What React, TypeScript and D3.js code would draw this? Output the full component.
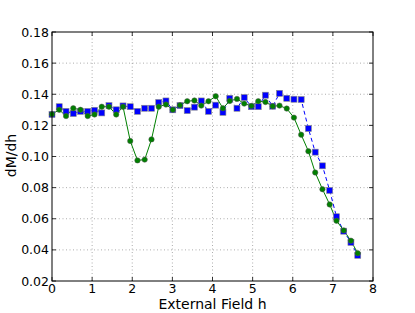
import React from "react";
import * as d3 from "d3";

// field values (h) of the sampled points
const fieldH = [
  0, 0.18, 0.35, 0.53, 0.71, 0.89, 1.06, 1.24, 1.42, 1.6, 1.77, 1.95, 2.13, 2.31, 2.48,
  2.66, 2.84, 3.01, 3.19, 3.37, 3.55, 3.72, 3.9, 4.08, 4.26, 4.43, 4.61, 4.79, 4.97,
  5.14, 5.32, 5.5, 5.67, 5.85, 6.03, 6.21, 6.39, 6.56, 6.74, 6.92, 7.09, 7.27, 7.45, 7.62,
];

// blue squares, dashed
const squaresY = [
  0.127, 0.132, 0.129, 0.1276, 0.129, 0.129, 0.1297, 0.128, 0.1327, 0.13, 0.1325,
  0.132, 0.129, 0.131, 0.131, 0.1347, 0.1357, 0.13, 0.1327, 0.1295, 0.1317, 0.1357,
  0.129, 0.133, 0.1284, 0.1374, 0.131, 0.1379, 0.132, 0.132, 0.1394, 0.1323, 0.1406,
  0.1374, 0.1368, 0.1366, 0.118, 0.1028, 0.094, 0.0782, 0.0613, 0.052, 0.0448, 0.0365,
];

// green circles, solid
const circlesY = [
  0.1272, 0.13, 0.126, 0.131, 0.13, 0.126, 0.127, 0.132, 0.132, 0.127, 0.132, 0.11,
  0.0975, 0.098, 0.111, 0.132, 0.1334, 0.13, 0.133, 0.1355, 0.136, 0.1327, 0.1355,
  0.1387, 0.131, 0.1357, 0.137, 0.134, 0.1325, 0.1355, 0.135, 0.1323, 0.1327, 0.1308,
  0.125, 0.114, 0.1034, 0.0897, 0.079, 0.0692, 0.0587, 0.0525, 0.0459, 0.0378,
];

const xTicks = [0, 1, 2, 3, 4, 5, 6, 7, 8];
const yTicks = [0.02, 0.04, 0.06, 0.08, 0.1, 0.12, 0.14, 0.16, 0.18];

const W = 415;
const H = 313;
const m = { left: 52, right: 42, top: 32, bottom: 32 };
const font = "DejaVu Sans, sans-serif";

export default function App() {
  const x = d3.scaleLinear().domain([0, 8]).range([m.left, W - m.right]);
  const y = d3.scaleLinear().domain([0.02, 0.18]).range([H - m.bottom, m.top]);
  const line = d3
    .line<number>()
    .x((_, i) => x(fieldH[i]))
    .y((d) => y(d));

  const x0 = x(0), x1 = x(8), y0 = y(0.02), y1 = y(0.18);

  return (
    <svg
      width={W}
      height={H}
      style={{ position: "absolute", left: 0, top: 0, background: "#fff" }}
      fontFamily={font}
    >
      <defs>
        <clipPath id="plot">
          <rect x={x0} y={y1} width={x1 - x0} height={y0 - y1} />
        </clipPath>
      </defs>
      {/* grid */}
      <g stroke="#777" strokeWidth={0.6} strokeDasharray="1,2.5">
        {xTicks.slice(1, -1).map((t) => (
          <line key={"gx" + t} x1={x(t)} x2={x(t)} y1={y0} y2={y1} />
        ))}
        {yTicks.slice(1, -1).map((t) => (
          <line key={"gy" + t} x1={x0} x2={x1} y1={y(t)} y2={y(t)} />
        ))}
      </g>

      <g clipPath="url(#plot)">
        <path
          d={line(squaresY) || ""}
          fill="none"
          stroke="#0000ff"
          strokeWidth={1}
          strokeDasharray="4,3"
        />
        <path d={line(circlesY) || ""} fill="none" stroke="#008000" strokeWidth={1} />
      </g>
      {squaresY.map((v, i) => (
        <rect
          key={"s" + i}
          x={x(fieldH[i]) - 3}
          y={y(v) - 3}
          width={6}
          height={6}
          fill="#0000ff"
          stroke="#888"
          strokeWidth={0.6}
        />
      ))}
      {circlesY.map((v, i) => (
        <circle
          key={"c" + i}
          cx={x(fieldH[i])}
          cy={y(v)}
          r={2.7}
          fill="#008000"
          stroke="#555"
          strokeWidth={0.5}
        />
      ))}

      {/* ticks (inside) */}
      <g stroke="#000" strokeWidth={0.8}>
        {xTicks.map((t) => (
          <g key={"tx" + t}>
            <line x1={x(t)} x2={x(t)} y1={y0} y2={y0 - 4} />
            <line x1={x(t)} x2={x(t)} y1={y1} y2={y1 + 4} />
          </g>
        ))}
        {yTicks.map((t) => (
          <g key={"ty" + t}>
            <line x1={x0} x2={x0 + 4} y1={y(t)} y2={y(t)} />
            <line x1={x1} x2={x1 - 4} y1={y(t)} y2={y(t)} />
          </g>
        ))}
      </g>
      <rect
        x={x0}
        y={y1}
        width={x1 - x0}
        height={y0 - y1}
        fill="none"
        stroke="#000"
        strokeWidth={1}
      />

      <g fontSize={12.5} fill="#000">
        {xTicks.map((t) => (
          <text key={"lx" + t} x={x(t)} y={y0 + 12} textAnchor="middle">
            {t}
          </text>
        ))}
        {yTicks.map((t) => (
          <text key={"ly" + t} x={x0 - 3} y={y(t) + 4.5} textAnchor="end">
            {t.toFixed(2)}
          </text>
        ))}
      </g>
      <text x={(x0 + x1) / 2} y={y0 + 28} textAnchor="middle" fontSize={14}>
        External Field h
      </text>
      <text
        transform={`translate(16,${(y0 + y1) / 2 - 1}) rotate(-90)`}
        textAnchor="middle"
        fontSize={14}
      >
        dM/dh
      </text>
    </svg>
  );
}
